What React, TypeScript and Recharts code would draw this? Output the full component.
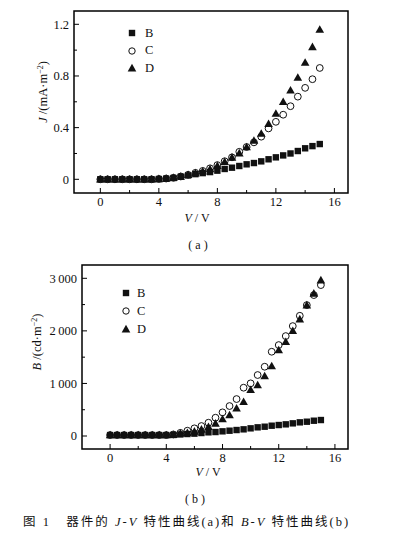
import React from 'react';
import { ScatterChart, Scatter, XAxis, YAxis, ReferenceArea, Legend, Label } from 'recharts';

// ---------- data ----------
const VOLTS = [0, 0.5, 1, 1.5, 2, 2.5, 3, 3.5, 4, 4.5, 5, 5.5, 6, 6.5, 7, 7.5, 8, 8.5, 9, 9.5, 10, 10.5, 11, 11.5, 12, 12.5, 13, 13.5, 14, 14.5, 15];

const J_B = [0, 0, 0, 0, 0, 0, 0, 0, 0.002, 0.005, 0.01, 0.02, 0.03, 0.04, 0.048, 0.056, 0.067, 0.08, 0.09, 0.103, 0.116, 0.126, 0.139, 0.155, 0.17, 0.185, 0.2, 0.219, 0.24, 0.257, 0.273];
const J_C = [0, 0, 0, 0, 0, 0, 0, 0, 0.003, 0.006, 0.012, 0.022, 0.035, 0.05, 0.065, 0.085, 0.11, 0.14, 0.17, 0.213, 0.25, 0.286, 0.33, 0.394, 0.445, 0.5, 0.566, 0.64, 0.708, 0.775, 0.862];
const J_D = [0, 0, 0, 0, 0, 0, 0, 0, 0.003, 0.006, 0.012, 0.022, 0.035, 0.048, 0.062, 0.08, 0.105, 0.136, 0.17, 0.203, 0.25, 0.3, 0.355, 0.43, 0.51, 0.6, 0.69, 0.788, 0.904, 1.025, 1.16];

const L_B = [18, 18, 18, 18, 18, 18, 18, 18, 18, 20, 30, 38, 45, 57, 70, 76, 89, 101, 114, 127, 146, 165, 177, 196, 209, 222, 241, 260, 272, 291, 304];
const L_C = [18, 18, 18, 18, 18, 18, 18, 18, 18, 30, 60, 101, 146, 190, 253, 348, 450, 570, 703, 919, 1002, 1160, 1318, 1603, 1730, 1901, 2091, 2287, 2490, 2681, 2871];
const L_D = [18, 18, 18, 18, 18, 18, 18, 18, 18, 25, 50, 63, 89, 127, 177, 241, 323, 399, 527, 652, 880, 970, 1141, 1331, 1635, 1793, 2002, 2224, 2490, 2713, 2966];

const SERIES_NAMES = ['B', 'C', 'D'];

const V_TICKS = [0, 2, 4, 6, 8, 10, 12, 14, 16];
const V_LABELS = ['0', '', '4', '', '8', '', '12', '', '16'];
const J_TICKS = [0, 0.2, 0.4, 0.6, 0.8, 1.0, 1.2];
const J_LABELS = ['0', '', '0.4', '', '0.8', '', '1.2'];
const L_TICKS = [0, 500, 1000, 1500, 2000, 2500, 3000];
const L_LABELS = ['0', '', '1\u2009000', '', '2\u2009000', '', '3\u2009000'];

const CAPTION_A = '( a )';
const CAPTION_B = '( b )';

// ---------- helpers ----------
const FONT = '"Liberation Serif", "Times New Roman", serif';
const TICK_MARGIN_X = 3;
const TICK_MARGIN_Y = 5;

const toPoints = (ys: number[]) => VOLTS.map((v, i) => ({ v, y: ys[i] }));

const makeXTick = (ticks: number[], labels: string[]) => (props: any) => {
  const { x, y, payload } = props;
  const idx = ticks.indexOf(payload.value);
  const label = idx >= 0 ? labels[idx] : '';
  const axisY = y - TICK_MARGIN_X;
  const len = label ? 5 : 3;
  return (
    <g>
      <line x1={x} x2={x} y1={axisY} y2={axisY - len} stroke="#000" strokeWidth={1} />
      {label && (
        <text x={x} y={y} dy="0.8em" textAnchor="middle" fontFamily={FONT} fontSize={12.5} fill="#111">
          {label}
        </text>
      )}
    </g>
  );
};

const makeYTick = (ticks: number[], labels: string[]) => (props: any) => {
  const { x, y, payload } = props;
  const idx = ticks.indexOf(payload.value);
  const label = idx >= 0 ? labels[idx] : '';
  const axisX = x + TICK_MARGIN_Y;
  const len = label ? 5 : 3;
  return (
    <g>
      <line x1={axisX} x2={axisX + len} y1={y} y2={y} stroke="#000" strokeWidth={1} />
      {label && (
        <text x={x} y={y} dy="0.35em" textAnchor="end" fontFamily={FONT} fontSize={12.5} fill="#111">
          {label}
        </text>
      )}
    </g>
  );
};

const Square = (props: any) => {
  const { cx, cy } = props;
  if (cx == null || cy == null) return <g />;
  return <rect x={cx - 3.2} y={cy - 3.2} width={6.4} height={6.4} fill="#111" />;
};
const Ring = (props: any) => {
  const { cx, cy } = props;
  if (cx == null || cy == null) return <g />;
  return <circle cx={cx} cy={cy} r={3.4} fill="none" stroke="#111" strokeWidth={1} />;
};
const Tri = (props: any) => {
  const { cx, cy } = props;
  if (cx == null || cy == null) return <g />;
  return <polygon points={`${cx},${cy - 4.3} ${cx + 4.3},${cy + 3.3} ${cx - 4.3},${cy + 3.3}`} fill="#111" />;
};

const LegendIcon = ({ name }: { name: string }) => (
  <svg width={10} height={10} style={{ display: 'block' }}>
    {name === 'B' && <rect x={1.8} y={1.8} width={6.4} height={6.4} fill="#111" />}
    {name === 'C' && <circle cx={5} cy={5} r={3.2} fill="none" stroke="#111" strokeWidth={1} />}
    {name === 'D' && <polygon points="5,0.8 9.3,8.4 0.7,8.4" fill="#111" />}
  </svg>
);

const makeLegend = (rowH: number, gap: number) => (props: any) => {
  const payload = props.payload || [];
  return (
    <div style={{ fontFamily: FONT, fontSize: 12.5, color: '#111' }}>
      {payload.map((p: any) => (
        <div key={p.value} style={{ display: 'flex', alignItems: 'center', height: rowH }}>
          <LegendIcon name={p.value} />
          <span style={{ marginLeft: gap, lineHeight: `${rowH}px` }}>{p.value}</span>
        </div>
      ))}
    </div>
  );
};

const YTitle = ({ cx, cy, letter }: { cx: number; cy: number; letter: string }) => (
  <text
    x={cx}
    y={cy}
    transform={`rotate(-90, ${cx}, ${cy})`}
    textAnchor="middle"
    dy="0.35em"
    fontFamily={FONT}
    fontSize={12.5}
    fill="#111"
  >
    <tspan fontStyle="italic">{letter}</tspan>
    {letter === 'J' ? ' /(mA·m' : ' /(cd·m'}
    <tspan dy={-4.5} fontSize={8}>−2</tspan>
    <tspan dy={4.5}>)</tspan>
  </text>
);

const XTitle = ({ cx, cy }: { cx: number; cy: number }) => (
  <text x={cx} y={cy} dy="0.35em" textAnchor="middle" fontFamily={FONT} fontSize={12} fill="#111">
    <tspan fontStyle="italic">V</tspan>
    {' / V'}
  </text>
);

// ---------- panels ----------
const JX = [-1.8, 16.93];
const JY = [-0.106, 1.303];
const LX = [-2.0, 16.93];
const LY = [-247, 3253];

const PanelA = () => (
  <ScatterChart width={393} height={260} margin={{ top: 11, right: 45, bottom: 37, left: 30 }}>
    <XAxis
      type="number"
      dataKey="v"
      domain={JX}
      allowDataOverflow
      ticks={V_TICKS}
      interval={0}
      height={30}
      tickSize={0}
      tickMargin={TICK_MARGIN_X}
      axisLine={false}
      tickLine={false}
      tick={makeXTick(V_TICKS, V_LABELS)}
    >
      <Label content={() => <XTitle cx={197} cy={218} />} />
    </XAxis>
    <YAxis
      type="number"
      dataKey="y"
      domain={JY}
      allowDataOverflow
      ticks={J_TICKS}
      interval={0}
      width={44}
      tickSize={0}
      tickMargin={TICK_MARGIN_Y}
      axisLine={false}
      tickLine={false}
      tick={makeYTick(J_TICKS, J_LABELS)}
    >
      <Label content={() => <YTitle cx={43} cy={92} letter="J" />} />
    </YAxis>
    <ReferenceArea x1={JX[0]} x2={JX[1]} y1={JY[0]} y2={JY[1]} fill="none" stroke="#000" strokeWidth={1.5} ifOverflow="visible" />
    <Legend
      layout="vertical"
      align="center"
      verticalAlign="middle"
      wrapperStyle={{ left: 127, top: 24.5, width: 40, height: 54 }}
      content={makeLegend(17.5, 8)}
    />
    <Scatter name={SERIES_NAMES[0]} data={toPoints(J_B)} shape={Square} isAnimationActive={false} />
    <Scatter name={SERIES_NAMES[1]} data={toPoints(J_C)} shape={Ring} isAnimationActive={false} />
    <Scatter name={SERIES_NAMES[2]} data={toPoints(J_D)} shape={Tri} isAnimationActive={false} />
  </ScatterChart>
);

const PanelB = () => (
  <ScatterChart width={393} height={240} margin={{ top: 5, right: 45, bottom: 21, left: 38 }}>
    <XAxis
      type="number"
      dataKey="v"
      domain={LX}
      allowDataOverflow
      ticks={V_TICKS}
      interval={0}
      height={30}
      tickSize={0}
      tickMargin={TICK_MARGIN_X}
      axisLine={false}
      tickLine={false}
      tick={makeXTick(V_TICKS, V_LABELS)}
    >
      <Label content={() => <XTitle cx={208} cy={212} />} />
    </XAxis>
    <YAxis
      type="number"
      dataKey="y"
      domain={LY}
      allowDataOverflow
      ticks={L_TICKS}
      interval={0}
      width={44}
      tickSize={0}
      tickMargin={TICK_MARGIN_Y}
      axisLine={false}
      tickLine={false}
      tick={makeYTick(L_TICKS, L_LABELS)}
    >
      <Label content={() => <YTitle cx={37} cy={82} letter="B" />} />
    </YAxis>
    <ReferenceArea x1={LX[0]} x2={LX[1]} y1={LY[0]} y2={LY[1]} fill="none" stroke="#000" strokeWidth={1.5} ifOverflow="visible" />
    <Legend
      layout="vertical"
      align="center"
      verticalAlign="middle"
      wrapperStyle={{ left: 121, top: 23.5, width: 40, height: 56 }}
      content={makeLegend(18, 6)}
    />
    <Scatter name={SERIES_NAMES[0]} data={toPoints(L_B)} shape={Square} isAnimationActive={false} />
    <Scatter name={SERIES_NAMES[1]} data={toPoints(L_C)} shape={Ring} isAnimationActive={false} />
    <Scatter name={SERIES_NAMES[2]} data={toPoints(L_D)} shape={Tri} isAnimationActive={false} />
  </ScatterChart>
);

export default function App() {
  const cjk = '"Liberation Serif", "Noto Sans CJK SC", serif';
  return (
    <div style={{ position: 'absolute', left: 0, top: 0, width: 393, height: 540, background: '#fff', overflow: 'hidden' }}>
      <div style={{ position: 'absolute', left: 0, top: 0 }}>
        <PanelA />
      </div>
      <div style={{ position: 'absolute', left: 178, top: 237, width: 40, textAlign: 'center', fontFamily: FONT, fontSize: 12, lineHeight: '16px', color: '#111', whiteSpace: 'pre' }}>
        {CAPTION_A}
      </div>
      <div style={{ position: 'absolute', left: 0, top: 260 }}>
        <PanelB />
      </div>
      <div style={{ position: 'absolute', left: 175, top: 491, width: 40, textAlign: 'center', fontFamily: FONT, fontSize: 12, lineHeight: '16px', color: '#111', whiteSpace: 'pre' }}>
        {CAPTION_B}
      </div>
      <div style={{ position: 'absolute', left: 23, top: 514, fontFamily: cjk, fontSize: 12.5, lineHeight: '16px', color: '#111', whiteSpace: 'pre', letterSpacing: 2 }}>
        <span>图 1</span>
        <span>{'   '}器件的 </span>
        <i>J</i>-<i>V</i>
        <span> 特性曲线(a)和 </span>
        <i>B</i>-<i>V</i>
        <span> 特性曲线(b)</span>
      </div>
    </div>
  );
}
